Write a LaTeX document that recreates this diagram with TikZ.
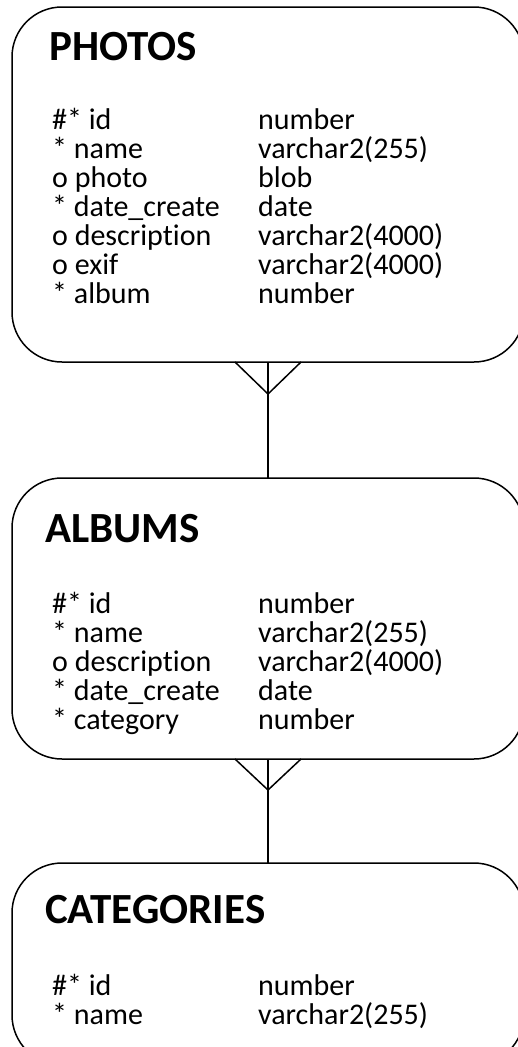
\documentclass[tikz,border=0pt]{standalone}
\usepackage{fontspec}
\setmainfont{Carlito}[Ligatures=NoCommon]
\usetikzlibrary{calc}
\begin{document}
\begin{tikzpicture}[x=1pt,y=-1pt,
  entity/.style={draw, line width=1.5pt, rounded corners=50pt, minimum width=512pt,
    inner sep=0pt, outer sep=0pt, anchor=north west},
  title/.style={font=\fontsize{43}{50}\selectfont\bfseries, inner sep=0pt, anchor=base west},
  attr/.style={font=\fontsize{30}{30}\selectfont, inner sep=0pt, anchor=base west},
  rel/.style={line width=1.5pt}]
\useasboundingbox (0,0) rectangle (517,1047);

% entities
\node[entity, minimum height=355pt] (photos) at (12,7) {};
\node[entity, minimum height=281pt] (albums) at (12,478) {};
\node[entity, minimum height=202pt] (categories) at (12,863) {};

% titles
\node[title] (tphotos) at (49,60) {PHOTOS};
\node[title] (talbums) at (45,542) {ALBUMS};
\node[title] (tcategories) at (45,923) {CATEGORIES};

% PHOTOS attributes
\foreach \a/\t [count=\i from 0] in {\#* id/number, * name/{varchar2(255)}, o photo/blob,
  * date\_create/date, o description/{varchar2(4000)}, o exif/{varchar2(4000)}, * album/number}
{
  \node[attr] (pa\i) at (52,129+29*\i) {\a};
  \node[attr] (pt\i) at (258,129+29*\i) {\t};
}
% ALBUMS attributes
\foreach \a/\t [count=\i from 0] in {\#* id/number, * name/{varchar2(255)},
  o description/{varchar2(4000)}, * date\_create/date, * category/number}
{
  \node[attr] (aa\i) at (52,613+29*\i) {\a};
  \node[attr] (at\i) at (258,613+29*\i) {\t};
}
% CATEGORIES attributes
\foreach \a/\t [count=\i from 0] in {\#* id/number, * name/{varchar2(255)}}
{
  \node[attr] (ca\i) at (52,995+29*\i) {\a};
  \node[attr] (ct\i) at (258,995+29*\i) {\t};
}

% relationships (crow's foot at the many side)
\coordinate (apex1) at ($(photos.south)+(0,32)$);
\draw[rel] (photos.south) -- (albums.north);
\draw[rel] ($(photos.south)+(-33,0)$) -- (apex1) -- ($(photos.south)+(33,0)$);

\coordinate (apex2) at ($(albums.south)+(0,31)$);
\draw[rel] (albums.south) -- (categories.north);
\draw[rel] ($(albums.south)+(-33,0)$) -- (apex2) -- ($(albums.south)+(33,0)$);
\end{tikzpicture}
\end{document}
